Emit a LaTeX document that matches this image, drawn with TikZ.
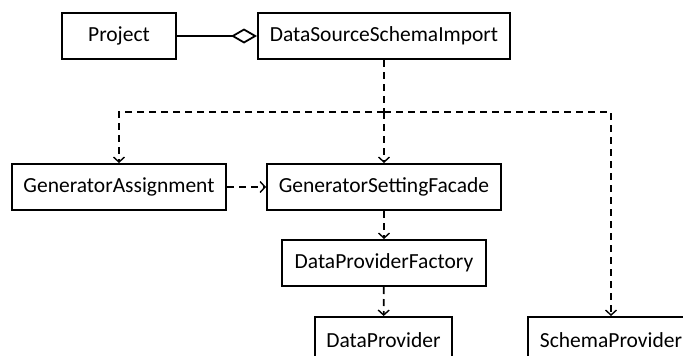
\documentclass[tikz,border=0pt]{standalone}
\usepackage{fontspec}
\setmainfont{Carlito}
\usetikzlibrary{arrows.meta}

\begin{document}
\begin{tikzpicture}[x=1pt,y=-1pt,
  cls/.style={draw, line width=2pt, minimum height=46pt, inner sep=0pt,
    font=\fontsize{21.5pt}{24pt}\selectfont},
  depline/.style={line width=1.8pt, dash pattern=on 7pt off 5pt},
  dep/.style={depline,
    -{Straight Barb[length=5pt,width=11pt,line width=1.4pt]}},
  aggr/.style={line width=1.8pt,
    -{Diamond[open,length=26pt,width=15pt,line width=1.8pt]}}]
  \useasboundingbox (0,0) rectangle (683,356);

  % classes
  \node[cls, minimum width=114pt] (proj) at (119,36) {Project};
  \node[cls, minimum width=252pt] (dssi) at (384,36) {DataSourceSchemaImport};
  \node[cls, minimum width=214pt] (ga)   at (119,187) {GeneratorAssignment};
  \node[cls, minimum width=234pt] (gsf)  at (384,187) {GeneratorSettingFacade};
  \node[cls, minimum width=204pt] (dpf)  at (384,263) {DataProviderFactory};
  \node[cls, minimum width=137pt] (dp)   at (383.5,340) {DataProvider};
  \node[cls, minimum width=166pt] (sp)   at (611,340) {SchemaProvider};

  % branching point of the dependencies of DataSourceSchemaImport
  \coordinate (fork) at (384,112);

  % aggregation
  \draw[aggr] (proj) -- (dssi);

  % dependencies
  \draw[depline] (dssi.south) -- (fork);
  \draw[dep] (fork) -| (ga.north);
  \draw[dep] (fork) -| (sp.north);
  \draw[dep] (fork) -- (gsf.north);
  \draw[dep] (ga) -- (gsf);
  \draw[dep] (gsf) -- (dpf);
  \draw[dep] (dpf) -- (dp);
\end{tikzpicture}
\end{document}
